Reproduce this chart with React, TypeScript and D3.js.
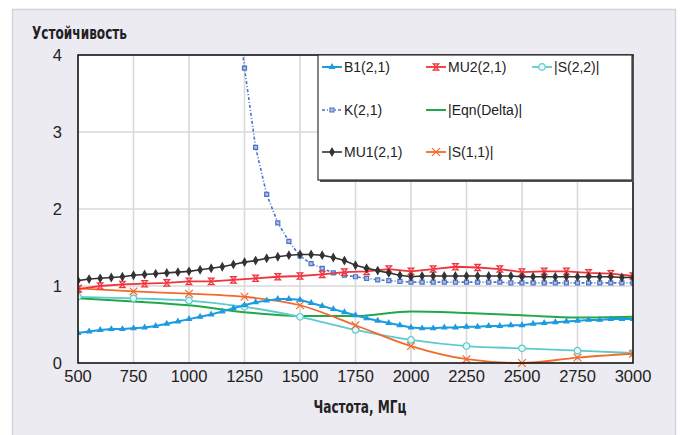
import * as d3 from "d3";

// --- data (frequency in MHz) ---
const freq50 = [500, 550, 600, 650, 700, 750, 800, 850, 900, 950, 1000, 1050, 1100, 1150, 1200, 1250, 1300, 1350, 1400, 1450, 1500, 1550, 1600, 1650, 1700, 1750, 1800, 1850, 1900, 1950, 2000, 2050, 2100, 2150, 2200, 2250, 2300, 2350, 2400, 2450, 2500, 2550, 2600, 2650, 2700, 2750, 2800, 2850, 2900, 2950, 3000];
const freq100 = [500, 600, 700, 800, 900, 1000, 1100, 1200, 1300, 1400, 1500, 1600, 1700, 1800, 1900, 2000, 2100, 2200, 2300, 2400, 2500, 2600, 2700, 2800, 2900, 3000];
const freq250 = [500, 750, 1000, 1250, 1500, 1750, 2000, 2250, 2500, 2750, 3000];
const freqK = [1200, 1250, 1300, 1350, 1400, 1450, 1500, 1550, 1600, 1650, 1700, 1750, 1800, 1850, 1900, 1950, 2000, 2050, 2100, 2150, 2200, 2250, 2300, 2350, 2400, 2450, 2500, 2550, 2600, 2650, 2700, 2750, 2800, 2850, 2900, 2950, 3000];

const b1 = [0.39, 0.41, 0.43, 0.44, 0.44, 0.45, 0.46, 0.48, 0.51, 0.54, 0.57, 0.6, 0.63, 0.67, 0.71, 0.75, 0.79, 0.81, 0.83, 0.83, 0.82, 0.78, 0.74, 0.7, 0.66, 0.62, 0.58, 0.55, 0.52, 0.49, 0.46, 0.45, 0.45, 0.46, 0.46, 0.47, 0.47, 0.48, 0.48, 0.49, 0.49, 0.51, 0.52, 0.53, 0.54, 0.55, 0.56, 0.56, 0.57, 0.57, 0.57];
const mu1 = [1.07, 1.09, 1.1, 1.11, 1.12, 1.14, 1.15, 1.16, 1.17, 1.18, 1.19, 1.21, 1.23, 1.25, 1.28, 1.31, 1.33, 1.36, 1.38, 1.4, 1.41, 1.41, 1.4, 1.37, 1.33, 1.27, 1.23, 1.2, 1.17, 1.14, 1.12, 1.13, 1.13, 1.13, 1.13, 1.13, 1.13, 1.13, 1.13, 1.13, 1.12, 1.12, 1.12, 1.12, 1.12, 1.12, 1.12, 1.12, 1.12, 1.11, 1.11];
const kFactor = [5.0, 3.83, 2.8, 2.19, 1.82, 1.58, 1.39, 1.29, 1.23, 1.17, 1.14, 1.12, 1.1, 1.08, 1.07, 1.06, 1.05, 1.05, 1.05, 1.05, 1.05, 1.05, 1.05, 1.05, 1.05, 1.04, 1.04, 1.04, 1.04, 1.04, 1.04, 1.04, 1.04, 1.04, 1.04, 1.04, 1.04];
const mu2 = [0.96, 1.0, 1.02, 1.03, 1.04, 1.06, 1.06, 1.08, 1.1, 1.12, 1.13, 1.15, 1.18, 1.19, 1.22, 1.19, 1.22, 1.25, 1.24, 1.22, 1.18, 1.19, 1.19, 1.17, 1.16, 1.13];
const s22 = [0.86, 0.84, 0.81, 0.73, 0.6, 0.43, 0.3, 0.22, 0.19, 0.16, 0.13];
const s11 = [0.97, 0.93, 0.9, 0.86, 0.75, 0.49, 0.22, 0.05, 0.0, 0.07, 0.12];
const eqnDelta = [0.84, 0.8, 0.75, 0.66, 0.61, 0.61, 0.67, 0.65, 0.62, 0.59, 0.6];

const xTicks = [500, 750, 1000, 1250, 1500, 1750, 2000, 2250, 2500, 2750, 3000];
const yTicks = [0, 1, 2, 3, 4];

const W = 683;
const H = 435;
const plot = { left: 78, top: 55, right: 633, bottom: 363 };

const x = d3.scaleLinear().domain([500, 3000]).range([plot.left, plot.right]);
const y = d3.scaleLinear().domain([0, 4]).range([plot.bottom, plot.top]);

const narrow = "'Liberation Sans Narrow', 'DejaVu Sans Condensed', sans-serif";
const sans = "'Liberation Sans', Arial, sans-serif";

const hourglass = "M-2.8,-3.2H2.8L-2.8,3.2H2.8Z";

type Series = {
  name: string;
  xs: number[];
  ys: number[];
  color: string;
  marker: string | null;
  markerFill: string;
  dash?: string;
  curve?: d3.CurveFactory;
  width: number;
};

const sym = (type: d3.SymbolType, size: number) => d3.symbol().type(type).size(size)() as string;

const series: Series[] = [
  { name: "eqn", xs: freq250, ys: eqnDelta, color: "#22a84a", marker: null, markerFill: "none", curve: d3.curveMonotoneX, width: 2 },
  { name: "s22", xs: freq250, ys: s22, color: "#5ec9cc", marker: sym(d3.symbolCircle, 34), markerFill: "#e6f7f7", curve: d3.curveMonotoneX, width: 1.8 },
  { name: "s11", xs: freq250, ys: s11, color: "#f26a2c", marker: sym(d3.symbolX, 40), markerFill: "none", curve: d3.curveMonotoneX, width: 1.8 },
  { name: "b1", xs: freq50, ys: b1, color: "#1c9be0", marker: sym(d3.symbolTriangle, 10), markerFill: "#1c9be0", width: 2 },
  { name: "k", xs: freqK, ys: kFactor, color: "#4b73c6", marker: sym(d3.symbolSquare, 16), markerFill: "#aebfe6", dash: "3,2,1,2", width: 1.6 },
  { name: "mu2", xs: freq100, ys: mu2, color: "#f0343c", marker: hourglass, markerFill: "#fbc9cb", width: 1.8 },
  { name: "mu1", xs: freq50, ys: mu1, color: "#333333", marker: sym(d3.symbolDiamond, 16), markerFill: "#333333", width: 1.6 },
];

const legendItems = [
  { label: "B1(2,1)", key: "b1", col: 0, row: 0 },
  { label: "MU2(2,1)", key: "mu2", col: 1, row: 0 },
  { label: "|S(2,2)|", key: "s22", col: 2, row: 0 },
  { label: "K(2,1)", key: "k", col: 0, row: 1 },
  { label: "|Eqn(Delta)|", key: "eqn", col: 1, row: 1 },
  { label: "MU1(2,1)", key: "mu1", col: 0, row: 2 },
  { label: "|S(1,1)|", key: "s11", col: 1, row: 2 },
];
const legendCols = [322, 426, 532];
const legendRows = [67, 110, 152];

const Marker = ({ s, cx, cy }: { s: Series; cx: number; cy: number }) =>
  s.marker ? (
    <path
      d={s.marker}
      transform={`translate(${cx},${cy})`}
      fill={s.markerFill}
      stroke={s.color}
      strokeWidth={1.2}
    />
  ) : null;

export default function App() {
  return (
    <svg
      width={W}
      height={H}
      style={{ position: "absolute", left: 0, top: 0, background: "#fff" }}
    >
      <defs>
        <clipPath id="plotClip">
          <rect x={plot.left} y={plot.top} width={plot.right - plot.left} height={plot.bottom - plot.top + 4} />
        </clipPath>
      </defs>

      {/* panel */}
      <rect x={12.5} y={9.5} width={663} height={440} fill="#ecebf1" stroke="#d3d3d8" strokeWidth={1.5} />

      <text x={32} y={39} fontFamily={narrow} fontWeight="bold" fontSize={17} fill="#222" textLength={95} lengthAdjust="spacingAndGlyphs">
        Устойчивость
      </text>

      {/* plot area */}
      <rect x={plot.left} y={plot.top} width={plot.right - plot.left} height={plot.bottom - plot.top} fill="#fff" />

      {/* grid */}
      {xTicks.map((t) => (
        <line key={"gx" + t} x1={x(t)} x2={x(t)} y1={plot.top} y2={plot.bottom} stroke="#d9d9d9" strokeWidth={1.6} />
      ))}
      {yTicks.map((t) => (
        <line key={"gy" + t} x1={plot.left} x2={plot.right} y1={y(t)} y2={y(t)} stroke="#d9d9d9" strokeWidth={1.6} />
      ))}

      {/* series */}
      <g clipPath="url(#plotClip)">
        {series.map((s) => {
          const pts = s.xs.map((f, i) => [f, s.ys[i]] as [number, number]);
          const line = d3
            .line<[number, number]>()
            .x((d) => x(d[0]))
            .y((d) => y(d[1]))
            .curve(s.curve ?? d3.curveLinear);
          return (
            <g key={s.name}>
              <path d={line(pts) ?? ""} fill="none" stroke={s.color} strokeWidth={s.width} strokeDasharray={s.dash} />
              {pts.map((d, i) => (
                <Marker key={i} s={s} cx={x(d[0])} cy={y(d[1])} />
              ))}
            </g>
          );
        })}
      </g>

      {/* frame */}
      <rect x={plot.left} y={plot.top} width={plot.right - plot.left} height={plot.bottom - plot.top} fill="none" stroke="#1a1a1a" strokeWidth={1.6} />

      {/* y tick labels */}
      {yTicks.map((t) => (
        <text key={"yl" + t} x={62} y={y(t) + 6} textAnchor="end" fontFamily={sans} fontSize={16.5} fill="#222">
          {t}
        </text>
      ))}
      {/* x tick labels */}
      {xTicks.map((t) => (
        <text key={"xl" + t} x={x(t)} y={382} textAnchor="middle" fontFamily={sans} fontSize={16.5} fill="#222">
          {t}
        </text>
      ))}

      <text x={360} y={413} textAnchor="middle" fontFamily={narrow} fontWeight="bold" fontSize={17} fill="#222" textLength={93} lengthAdjust="spacingAndGlyphs">
        Частота, МГц
      </text>

      {/* legend */}
      <rect x={320} y={57} width={314} height={125} fill="#555" />
      <rect x={318} y={55} width={314} height={125} fill="#fff" stroke="#333" strokeWidth={1.2} />
      {legendItems.map((it) => {
        const s = series.find((d) => d.name === it.key)!;
        const lx = legendCols[it.col];
        const ly = legendRows[it.row];
        return (
          <g key={it.key}>
            <line x1={lx} x2={lx + 20} y1={ly} y2={ly} stroke={s.color} strokeWidth={s.width} strokeDasharray={s.dash} />
            <Marker s={s} cx={lx + 10} cy={ly} />
            <text x={lx + 22} y={ly + 5} fontFamily={sans} fontSize={14} fill="#222">
              {it.label}
            </text>
          </g>
        );
      })}
    </svg>
  );
}
